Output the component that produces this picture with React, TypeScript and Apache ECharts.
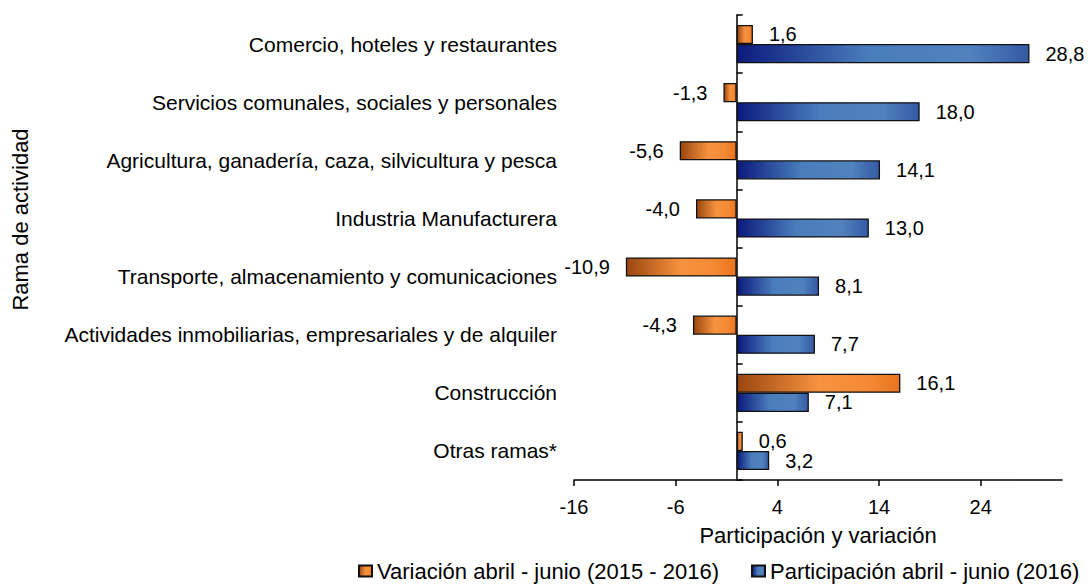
import React, { useEffect, useRef } from "react";
import * as echarts from "echarts";

const categories = [
  "Comercio, hoteles y restaurantes",
  "Servicios comunales, sociales y personales",
  "Agricultura, ganadería, caza, silvicultura y pesca",
  "Industria Manufacturera",
  "Transporte, almacenamiento y comunicaciones",
  "Actividades inmobiliarias, empresariales y de alquiler",
  "Construcción",
  "Otras ramas*",
];
const variacion = [1.6, -1.3, -5.6, -4.0, -10.9, -4.3, 16.1, 0.6];
const participacion = [28.8, 18.0, 14.1, 13.0, 8.1, 7.7, 7.1, 3.2];
const xTicks = [-16, -6, 4, 14, 24];
const seriesNames = [
  "Variación abril - junio (2015 - 2016)",
  "Participación abril - junio (2016)",
];
const xAxisName = "Participación y variación";
const yAxisName = "Rama de actividad";

const FONT = "'Liberation Sans', Arial, sans-serif";
const fmt = (v: number) => v.toFixed(1).replace(".", ",");

export default function App() {
  const ref = useRef<HTMLDivElement>(null);
  useEffect(() => {
    if (!ref.current) return;
    const chart = echarts.init(ref.current, undefined, { renderer: "svg" });
    const orange = new echarts.graphic.LinearGradient(0, 0, 1, 0, [
      { offset: 0, color: "#9a4610" },
      { offset: 0.5, color: "#f7923e" },
      { offset: 0.8, color: "#f58a35" },
      { offset: 1, color: "#e9741c" },
    ]);
    const blue = new echarts.graphic.LinearGradient(0, 0, 1, 0, [
      { offset: 0, color: "#0b1a7c" },
      { offset: 0.45, color: "#4a7dbb" },
      { offset: 0.8, color: "#5182be" },
      { offset: 1, color: "#3559a3" },
    ]);
    const axisLineStyle = { color: "#000", width: 1.5 };
    const labelBase = {
      show: true,
      distance: 16,
      fontSize: 20,
      color: "#000",
      fontFamily: FONT,
      formatter: (p: any) => fmt(p.value),
    };
    const toItems = (arr: number[]) =>
      arr.map((v) => ({ value: v, label: { position: v < 0 ? "left" : "right" } }));
    chart.setOption({
      animation: false,
      textStyle: { fontFamily: FONT },
      grid: { left: 574, right: 26, top: 15, bottom: 105, containLabel: false },
      legend: {
        data: seriesNames.map((n) => ({ name: n, icon: "rect" })),
        left: 358,
        top: 560,
        padding: 0,
        itemGap: 32,
        itemWidth: 13,
        itemHeight: 11,
        textStyle: { fontSize: 22, color: "#000", fontFamily: FONT },
      },
      xAxis: {
        type: "value",
        min: -16,
        max: 32,
        interval: 10,
        position: "bottom",
        axisLine: { show: true, onZero: false, lineStyle: axisLineStyle },
        axisTick: { show: true, length: 6, lineStyle: axisLineStyle, customValues: xTicks },
        axisLabel: { fontSize: 20, color: "#000", margin: 17, fontFamily: FONT, customValues: xTicks },
        splitLine: { show: false },
        name: xAxisName,
        nameLocation: "middle",
        nameGap: 44,
        nameTextStyle: { fontSize: 22, color: "#000", fontFamily: FONT },
      },
      yAxis: [
        {
          type: "category",
          inverse: true,
          data: categories,
          position: "left",
          axisLine: { show: false, onZero: false },
          axisTick: { show: false },
          axisLabel: { fontSize: 21, color: "#000", margin: 17, fontFamily: FONT },
          name: yAxisName,
          nameLocation: "middle",
          nameRotate: 90,
          nameGap: 543,
          nameTextStyle: { fontSize: 22, color: "#000", fontFamily: FONT, padding: [0, 0, 0, 56] },
        },
        {
          type: "category",
          inverse: true,
          data: categories,
          position: "right",
          axisLine: { show: true, onZero: true, onZeroAxisIndex: 0, lineStyle: axisLineStyle },
          axisTick: { show: true, inside: false, length: 6, lineStyle: axisLineStyle },
          axisLabel: { show: false },
        },
      ],
      series: [
        {
          name: seriesNames[0],
          type: "bar",
          yAxisIndex: 0,
          data: toItems(variacion),
          barGap: "0%",
          barCategoryGap: "34%",
          itemStyle: { color: orange, borderColor: "#111", borderWidth: 1.3 },
          label: labelBase,
        },
        {
          name: seriesNames[1],
          type: "bar",
          yAxisIndex: 0,
          data: toItems(participacion),
          barGap: "0%",
          barCategoryGap: "34%",
          itemStyle: { color: blue, borderColor: "#111", borderWidth: 1.3 },
          label: labelBase,
        },
      ],
    });
    return () => chart.dispose();
  }, []);
  return <div ref={ref} style={{ width: 1088, height: 585, position: "absolute", left: 0, top: 0 }} />;
}
